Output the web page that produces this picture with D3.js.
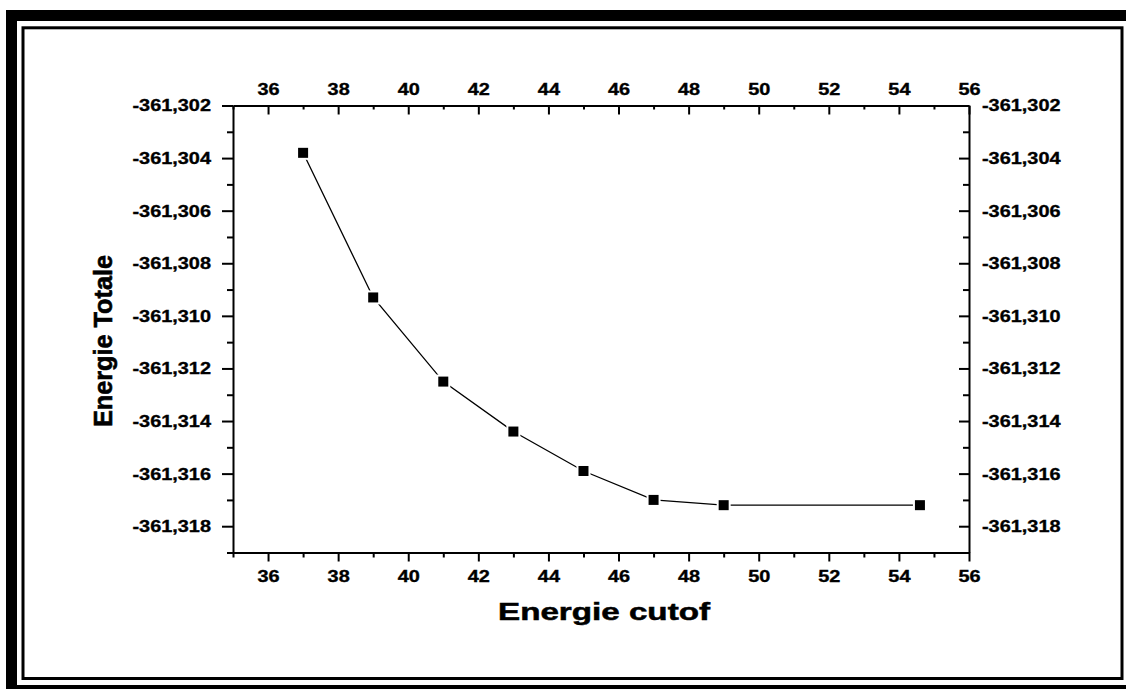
<!DOCTYPE html>
<html>
<head>
<meta charset="utf-8">
<script src="https://cdn.jsdelivr.net/npm/d3@7"></script>
<style>
  body { margin: 0; background: #fff; }
  svg { display: block; }
  text { font-family: Arial, "Liberation Sans", sans-serif; font-weight: bold; fill: #000; }
</style>
</head>
<body>
<div id="chart"></div>
<script>
// data
const cutoffs = [37, 39, 41, 43, 45, 47, 49, 54.6]
const energies = [-361.3038, -361.3093, -361.3125, -361.3144, -361.3159, -361.3170, -361.3172, -361.3172]

const xMajorTicks = [36, 38, 40, 42, 44, 46, 48, 50, 52, 54, 56]
const xMinorTicks = [35, 37, 39, 41, 43, 45, 47, 49, 51, 53, 55]
const yMajorTicks = [-361.302, -361.304, -361.306, -361.308, -361.310, -361.312, -361.314, -361.316, -361.318]
const yMinorTicks = [-361.303, -361.305, -361.307, -361.309, -361.311, -361.313, -361.315, -361.317, -361.319]

const xTitle = "Energie cutof"
const yTitle = "Energie Totale"

const W = 1126, H = 689
const plot = { left: 233, right: 969, top: 105.5, bottom: 552.5 }

const svg = d3.select("#chart").append("svg").attr("width", W).attr("height", H)

svg.append("rect").attr("width", W).attr("height", H).attr("fill", "#fff")

// double frame round the figure
svg.append("rect")
    .attr("x", 11.5).attr("y", 15.5)
    .attr("width", W + 20).attr("height", 675)
    .attr("fill", "none").attr("stroke", "#000").attr("stroke-width", 11)
svg.append("rect")
    .attr("x", 23).attr("y", 27.8)
    .attr("width", 1122 - 23).attr("height", 678.5 - 27.8)
    .attr("fill", "none").attr("stroke", "#000").attr("stroke-width", 3)

const x = d3.scaleLinear().domain([35, 56]).range([plot.left, plot.right])
const y = d3.scaleLinear().domain([-361.319, -361.302]).range([plot.bottom, plot.top])

const locale = d3.formatLocale({ decimal: ",", thousands: ".", grouping: [3], currency: ["", ""], minus: "-" })
const yFmt = locale.format(".3f")

function stretch(sel, k) {
    sel.selectAll("text").each(function () {
        const len = this.getComputedTextLength()
        d3.select(this).attr("textLength", len * k).attr("lengthAdjust", "spacingAndGlyphs")
    })
}

function drawAxis(axisFn, scale, major, minor, size, minorSize, pad, fmt, tx, ty) {
    const g = svg.append("g").attr("transform", `translate(${tx},${ty})`)
    g.call(axisFn(scale).tickValues(minor).tickFormat("").tickSizeInner(minorSize).tickSizeOuter(0))
    g.selectAll(".domain").remove()
    const g2 = svg.append("g").attr("transform", `translate(${tx},${ty})`)
    g2.call(axisFn(scale).tickValues(major).tickFormat(fmt).tickSizeInner(size).tickSizeOuter(0).tickPadding(pad))
    ;[g, g2].forEach(s => {
        s.selectAll("line").attr("stroke-width", 2)
        s.selectAll(".domain").attr("stroke-width", 2)
        s.selectAll("text")
            .style("font-size", "17px").style("font-family", null)
            .attr("stroke", "#000").attr("stroke-width", 0.35)
    })
    stretch(g2, 1.17)
    return g2
}

drawAxis(d3.axisBottom, x, xMajorTicks, xMinorTicks, 9, 5, 8, d3.format("d"), 0, plot.bottom)
drawAxis(d3.axisTop, x, xMajorTicks, xMinorTicks, -9, -4, 11, d3.format("d"), 0, plot.top)
drawAxis(d3.axisLeft, y, yMajorTicks, yMinorTicks, 11, 6, 11, yFmt, plot.left, 0)
drawAxis(d3.axisRight, y, yMajorTicks, yMinorTicks, -10, -6, 13, yFmt, plot.right, 0)

// data line with markers
const pts = cutoffs.map((c, i) => ({ c, e: energies[i] }))
const line = d3.line().x(d => x(d.c)).y(d => y(d.e))

svg.append("path")
    .datum(pts)
    .attr("d", line)
    .attr("fill", "none")
    .attr("stroke", "#000")
    .attr("stroke-width", 1.3)

svg.selectAll("rect.halo")
    .data(pts)
    .join("rect")
    .attr("class", "halo")
    .attr("x", d => x(d.c) - 7).attr("y", d => y(d.e) - 7)
    .attr("width", 14).attr("height", 14)
    .attr("fill", "#fff")

svg.selectAll("rect.pt")
    .data(pts)
    .join("rect")
    .attr("class", "pt")
    .attr("x", d => x(d.c) - 5).attr("y", d => y(d.e) - 5)
    .attr("width", 10).attr("height", 10)
    .attr("fill", "#000")

// axis titles
svg.append("text")
    .attr("x", 604).attr("y", 619.5)
    .attr("text-anchor", "middle")
    .style("font-size", "23px")
    .attr("stroke", "#000").attr("stroke-width", 0.5)
    .attr("textLength", 212).attr("lengthAdjust", "spacingAndGlyphs")
    .text(xTitle)

svg.append("text")
    .attr("transform", "translate(111.5,341) rotate(-90)")
    .attr("text-anchor", "middle")
    .style("font-size", "25px")
    .attr("stroke", "#000").attr("stroke-width", 0.6)
    .attr("textLength", 172).attr("lengthAdjust", "spacingAndGlyphs")
    .text(yTitle)
</script>
</body>
</html>
